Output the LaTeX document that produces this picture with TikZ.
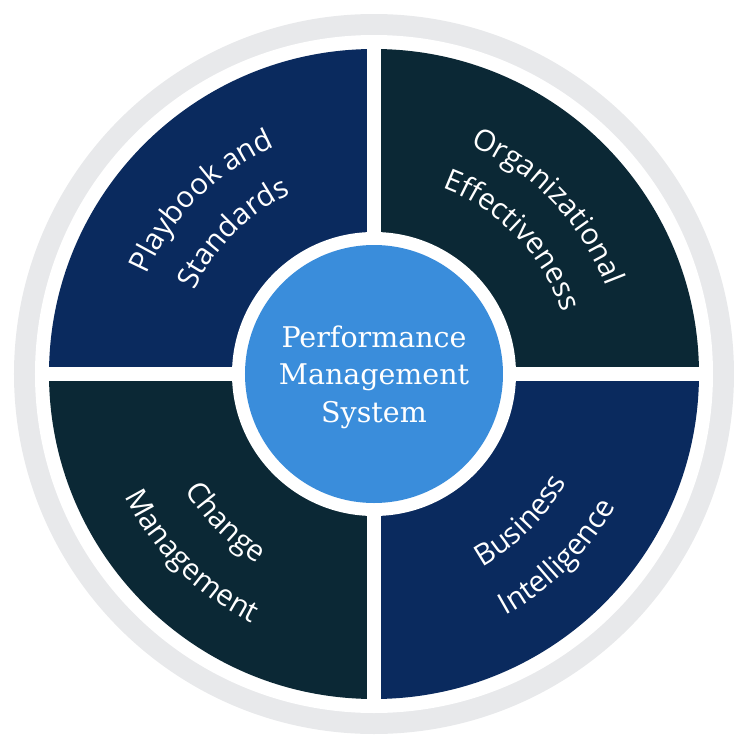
\documentclass[tikz,border=0pt]{standalone}
\usepackage{fontspec}
\usetikzlibrary{decorations.text}
\newfontfamily\quadfont{Open Sans}
\newfontfamily\centerfont{DejaVu Serif}
\definecolor{ringgray}{HTML}{E8E9EB}
\definecolor{navyq}{HTML}{0A2A5E}
\definecolor{tealq}{HTML}{0B2835}
\definecolor{coreblue}{HTML}{3A8DDB}
\tikzset{
  arclabel/.style={decorate, decoration={text along path, text align=center, text color=white,
      text={|\quadfont\fontsize{29.5}{31}\selectfont|#1}}},
  corecircle/.style={circle, fill=coreblue, minimum size=258pt, inner sep=0pt},
  coretext/.style={text=white, align=center, inner sep=0pt, font=\centerfont\fontsize{28.5}{37.5}\selectfont}
}
\begin{document}
\begin{tikzpicture}[x=1pt,y=1pt]
\useasboundingbox (-374,-374) rectangle (374,374);
% outer gray ring
\fill[ringgray] (0,0) circle (360);
\fill[white] (0,0) circle (339);
% quadrants
\begin{scope}
  \clip (0,0) circle (325);
  \fill[navyq] (-330,6.75) rectangle (-6.75,330);
  \fill[tealq] (6.75,6.75) rectangle (330,330);
  \fill[tealq] (-330,-6.75) rectangle (-6.75,-330);
  \fill[navyq] (6.75,-6.75) rectangle (330,-330);
\end{scope}
% white ring round the core
\fill[white] (0,0) circle (142);
\node[corecircle] (pms) at (0,0) {};
\node[coretext] (pmstext) at (0,-3) {Performance\\Management\\System};
% quadrant labels set on arcs
\path[arclabel={Playbook and}] (195:248) arc[start angle=195, end angle=75, radius=248];
\path[arclabel={Standards}] (195:198) arc[start angle=195, end angle=75, radius=198];
\path[arclabel={Organizational}] (104:248) arc[start angle=104, end angle=-16, radius=248];
\path[arclabel={Effectiveness}] (104:198) arc[start angle=104, end angle=-16, radius=198];
\path[arclabel={Change}] (165:222) arc[start angle=165, end angle=285, radius=222];
\path[arclabel={Management}] (165:277) arc[start angle=165, end angle=285, radius=277];
\path[arclabel={Business}] (255:221) arc[start angle=255, end angle=375, radius=221];
\path[arclabel={Intelligence}] (255:275) arc[start angle=255, end angle=375, radius=275];
\end{tikzpicture}
\end{document}
